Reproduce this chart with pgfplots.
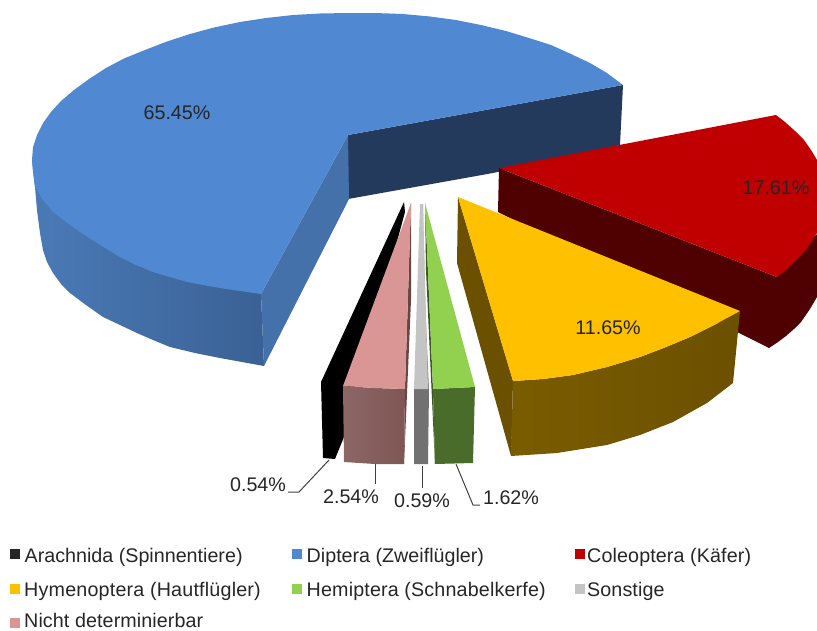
\documentclass[border=0pt]{standalone}
\usepackage{pgfplots}
\pgfplotsset{compat=1.18}
\usepackage{fontspec}
\setmainfont{Liberation Sans}
\definecolor{txt}{HTML}{262626}
\definecolor{lead}{HTML}{404040}
\definecolor{blueT}{HTML}{5089D1}
\definecolor{blueD}{HTML}{243A5C}
\definecolor{blueI}{HTML}{4471A9}
\definecolor{blueL}{HTML}{4A7AB6}
\definecolor{blueR}{HTML}{3A6195}
\definecolor{redT}{HTML}{C00000}
\definecolor{redD}{HTML}{4F0000}
\definecolor{yelT}{HTML}{FFC000}
\definecolor{yelD}{HTML}{6B5000}
\definecolor{yelL}{HTML}{7A5C00}
\definecolor{grnT}{HTML}{92D050}
\definecolor{grnD}{HTML}{4A6C2A}
\definecolor{gryT}{HTML}{C4C4C4}
\definecolor{gryD}{HTML}{717171}
\definecolor{pnkT}{HTML}{D99694}
\definecolor{pnkD}{HTML}{7F5654}
\begin{document}
\begin{tikzpicture}
\useasboundingbox (0,0) rectangle (817pt,630pt);
\begin{axis}[at={(0,0)},anchor=south west,scale only axis,width=817pt,height=630pt,
  xmin=0,xmax=817,ymin=0,ymax=630,y dir=reverse,hide axis,clip=true,
  nodes={font=\fontsize{19.7}{22}\selectfont,text=txt,inner sep=0pt}]
% blue: outer side
\addplot[draw=none,left color=blueL,right color=blueR] coordinates {
(32,160)(35,187)(37,210)(40,233)(43,250)(47,262)(53,273)(61,284)(70,293)(86,305)(103,317)(120,325)(137,333)(153,340)(170,347)(195,353)(220,358)(242,362)(264,366)(261,294)(100,240)};
% blue dark cut face
\addplot[draw=none,fill=blueD] coordinates {(348,135)(623,85)(620,145)(493,173)(348,199)};
% blue inner side
\addplot[draw=none,fill=blueI] coordinates {(261,294)(264,366)(349,199)(348,135)};
% blue top
\addplot[draw=none,fill=blueT] coordinates {(348,135)(623,85)(607,73)(590,63)(571,54)(551,45)(529,38)(506,31)(481,25)(456,20)(430,16.5)(403,14)(375,13)(348,13)(320,13.5)(293,15)(266,18)(240,22)(214,27.5)(190,34)(167,41.5)(145,50)(124,58.5)(106,68)(89,79)(74,90)(61,101)(51,112)(43,123)(37,135)(33,147)(32,160)(33,172)(35,187)(43,200)(53,212)(66,222)(80,232)(100,245)(120,257)(136,265)(153,272)(170,277)(187,282)(203,285)(220,288)(240,291)(261,294)};
% red
\addplot[draw=none,fill=redD] coordinates {(499,168)(498,212)(769,348)(778,342)(786,336)(794,329)(801,322)(810,309)(817,297)(823,285)(827,272)(830,220)(777,277)};
\addplot[draw=none,fill=redT] coordinates {(499,168)(776,115)(785,122)(795,131)(804,140)(811,150)(817,160)(822,172)(826,185)(827,198)(826,210)(822,222)(817,233)(810,244)(803,253)(796,260)(787,269)(777,277)};
% yellow
\addplot[draw=none,fill=yelD] coordinates {(458,197)(457,263)(511,456)(513,381)};
\addplot[draw=none,left color=yelL,middle color=yelD,right color=yelD] coordinates {(513,381)(543,379)(573,375)(607,367)(640,357)(666,347)(690,337)(716,324)(740,311)(733,383)(707,403)(673,422)(640,435)(607,445)(557,453)(511,456)};
\addplot[draw=none,fill=yelT] coordinates {(458,197)(740,311)(716,324)(690,337)(666,347)(640,357)(607,367)(573,375)(543,379)(513,381)};
% black
\addplot[draw=none,fill=black] coordinates {(404,202)(321,382)(323,458)(335,459)(344,437)(405,212)};
% pink
\addplot[draw=none,fill=pnkD!80!black] coordinates {(411,203)(411,300)(404,464)(405,389)};
\addplot[draw=none,left color=pnkD!90!white,right color=pnkD] coordinates {(343,386)(344,462)(375,464)(404,464)(405,389)(375,388)};
\addplot[draw=none,fill=pnkT] coordinates {(411,203)(343,386)(375,388)(405,389)};
% grey
\addplot[draw=none,fill=gryD] coordinates {(414,389)(414,464)(428,464)(429,389)};
\addplot[draw=none,fill=gryT!70!black] coordinates {(423,204)(425,300)(429,389)(427,389)};
\addplot[draw=none,fill=gryT] coordinates {(420,204)(423,204)(428,389)(414,389)};
% green
\addplot[draw=none,fill=grnD!80!black] coordinates {(425,203)(426,270)(435,464)(433,389)};
\addplot[draw=none,fill=grnD] coordinates {(433,389)(435,464)(473,463)(475,387)};
\addplot[draw=none,fill=grnT] coordinates {(425,203)(433,389)(475,387)};
% leaders
\addplot[draw=lead,line width=1pt] coordinates {(329,460)(299,492)(288,492)};
\addplot[draw=lead,line width=1pt] coordinates {(375,464)(375,484)};
\addplot[draw=lead,line width=1pt] coordinates {(422,466)(422,488)};
\addplot[draw=lead,line width=1pt] coordinates {(456,464)(473,505)(480,505)};
% legend markers
\addplot[draw=none,fill=txt] coordinates {(10,549)(19.5,549)(19.5,559)(10,559)};
\addplot[draw=none,fill=blueT] coordinates {(292,549)(302,549)(302,559)(292,559)};
\addplot[draw=none,fill=redT] coordinates {(575,549)(585,549)(585,559)(575,559)};
\addplot[draw=none,fill=yelT] coordinates {(10,584)(19.5,584)(19.5,594)(10,594)};
\addplot[draw=none,fill=grnT] coordinates {(292,584)(302,584)(302,594)(292,594)};
\addplot[draw=none,fill=gryT] coordinates {(575,584)(585,584)(585,594)(575,594)};
\addplot[draw=none,fill=pnkT] coordinates {(10,618)(19.5,618)(19.5,628)(10,628)};
% labels
\node at (axis cs:177,113) {65.45\%};
\node at (axis cs:776,188) {17.61\%};
\node at (axis cs:608,328) {11.65\%};
\node at (axis cs:258,485) {0.54\%};
\node at (axis cs:351,497) {2.54\%};
\node at (axis cs:422,501) {0.59\%};
\node at (axis cs:511,498) {1.62\%};
\node[anchor=base west] at (axis cs:24.5,562) {Arachnida (Spinnentiere)};
\node[anchor=base west] at (axis cs:306.5,562) {Diptera (Zweiflügler)};
\node[anchor=base west] at (axis cs:587,562) {\addfontfeatures{LetterSpace=0.6}Coleoptera (Käfer)};
\node[anchor=base west] at (axis cs:24,596) {\addfontfeatures{LetterSpace=1}Hymenoptera (Hautflügler)};
\node[anchor=base west] at (axis cs:306.5,596) {\addfontfeatures{LetterSpace=0.8}Hemiptera (Schnabelkerfe)};
\node[anchor=base west] at (axis cs:587,596) {\addfontfeatures{LetterSpace=0.5}Sonstige};
\node[anchor=base west] at (axis cs:24,627.5) {\addfontfeatures{LetterSpace=0.5}Nicht determinierbar};
\end{axis}
\end{tikzpicture}
\end{document}
